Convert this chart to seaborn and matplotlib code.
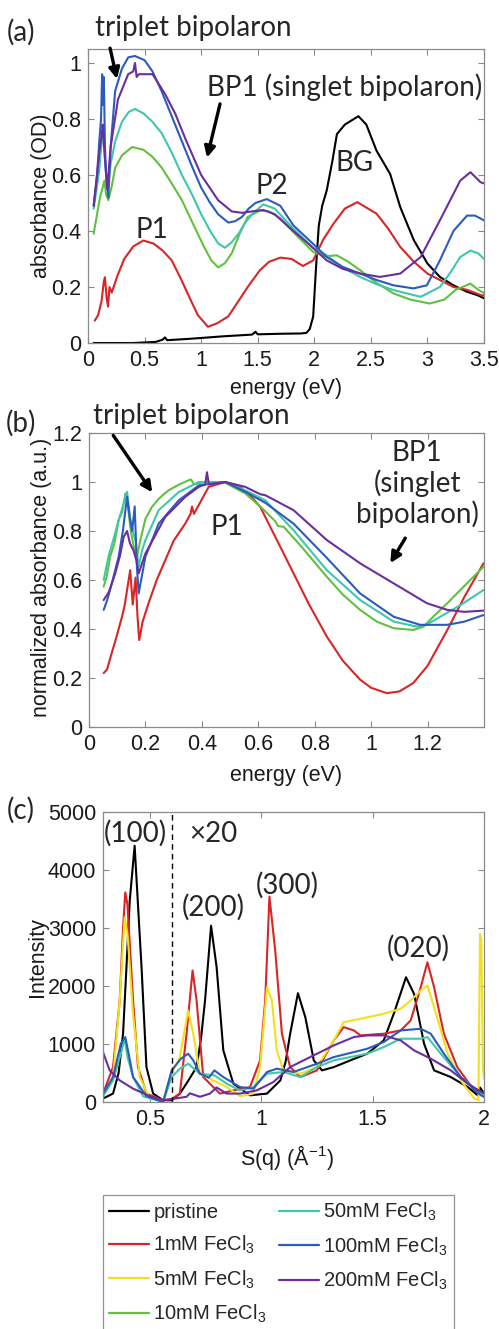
import pandas as pd
import seaborn as sns
import matplotlib.pyplot as plt
from matplotlib.lines import Line2D

# ---------------- data ----------------
samples = ['pristine', '1mM', '5mM', '10mM', '50mM', '100mM', '200mM']
colors = ['#000000', '#d92525', '#f2e01c', '#62c040', '#40c6ac', '#2b5cbd', '#6a2e9e']
legend_labels = ['pristine',
                 r'1mM FeCl$_\mathregular{3}$', r'5mM FeCl$_\mathregular{3}$',
                 r'10mM FeCl$_\mathregular{3}$', r'50mM FeCl$_\mathregular{3}$',
                 r'100mM FeCl$_\mathregular{3}$', r'200mM FeCl$_\mathregular{3}$']

# (a) absorbance vs energy
a_x_pristine = [0.05, 0.4, 0.6, 0.66, 0.68, 0.7, 0.9, 1.2, 1.45, 1.48, 1.5, 1.7, 1.88, 1.93, 1.96, 1.99,
                2.02, 2.04, 2.07, 2.11, 2.16, 2.2, 2.27, 2.35, 2.39, 2.46, 2.55, 2.67, 2.76, 2.88, 3.0,
                3.11, 3.23, 3.35, 3.44, 3.5]
a_y_pristine = [0.0, 0.0, 0.004, 0.012, 0.02, 0.01, 0.015, 0.024, 0.03, 0.04, 0.031, 0.033, 0.034, 0.036,
                0.05, 0.094, 0.3, 0.42, 0.49, 0.545, 0.65, 0.746, 0.78, 0.80, 0.81, 0.78, 0.687, 0.604,
                0.485, 0.367, 0.284, 0.236, 0.206, 0.183, 0.171, 0.16]
a_x_1mM = [0.06, 0.09, 0.12, 0.14, 0.15, 0.165, 0.177, 0.19, 0.21, 0.26, 0.32, 0.4, 0.49, 0.58, 0.66,
           0.74, 0.82, 0.9, 0.97, 1.06, 1.14, 1.24, 1.33, 1.42, 1.52, 1.6, 1.7, 1.8, 1.9, 1.99, 2.08,
           2.17, 2.27, 2.38, 2.55, 2.65, 2.76, 2.88, 3.0, 3.11, 3.23, 3.35, 3.48, 3.5]
a_y_1mM = [0.08, 0.1, 0.15, 0.22, 0.235, 0.16, 0.13, 0.2, 0.18, 0.24, 0.3, 0.345, 0.366, 0.355, 0.33,
           0.295, 0.23, 0.16, 0.1, 0.058, 0.07, 0.095, 0.15, 0.205, 0.26, 0.29, 0.305, 0.30, 0.275,
           0.295, 0.37, 0.426, 0.48, 0.503, 0.462, 0.41, 0.343, 0.29, 0.248, 0.225, 0.2, 0.19, 0.17, 0.17]
a_x_10mM = [0.05, 0.08, 0.106, 0.13, 0.145, 0.16, 0.18, 0.21, 0.24, 0.3, 0.39, 0.49, 0.57, 0.65, 0.74,
            0.83, 0.9, 0.97, 1.03, 1.09, 1.15, 1.21, 1.27, 1.34, 1.41, 1.52, 1.6, 1.7, 1.815, 1.99, 2.1,
            2.2, 2.3, 2.405, 2.55, 2.7, 2.85, 3.02, 3.15, 3.25, 3.38, 3.45, 3.5]
a_y_10mM = [0.39, 0.46, 0.52, 0.556, 0.58, 0.53, 0.51, 0.56, 0.626, 0.67, 0.70, 0.69, 0.665, 0.627, 0.57,
            0.51, 0.45, 0.39, 0.34, 0.295, 0.27, 0.285, 0.32, 0.39, 0.45, 0.473, 0.47, 0.445, 0.396,
            0.325, 0.31, 0.313, 0.29, 0.26, 0.215, 0.177, 0.155, 0.141, 0.155, 0.19, 0.212, 0.19, 0.178]
a_x_50mM = [0.05, 0.08, 0.1, 0.12, 0.13, 0.145, 0.16, 0.175, 0.2, 0.24, 0.3, 0.36, 0.415, 0.49, 0.57,
            0.65, 0.74, 0.83, 0.92, 1.0, 1.08, 1.15, 1.21, 1.27, 1.33, 1.39, 1.45, 1.55, 1.65, 1.815,
            1.99, 2.11, 2.25, 2.405, 2.55, 2.7, 2.94, 3.11, 3.2, 3.29, 3.38, 3.45, 3.5]
a_y_50mM = [0.48, 0.56, 0.62, 0.72, 0.75, 0.68, 0.6, 0.55, 0.64, 0.72, 0.79, 0.825, 0.836, 0.82, 0.79,
            0.75, 0.68, 0.60, 0.53, 0.46, 0.40, 0.356, 0.34, 0.36, 0.39, 0.43, 0.46, 0.495, 0.48, 0.408,
            0.34, 0.313, 0.27, 0.236, 0.21, 0.189, 0.165, 0.20, 0.25, 0.307, 0.33, 0.32, 0.30]
a_x_100mM = [0.05, 0.08, 0.1, 0.115, 0.125, 0.13, 0.14, 0.15, 0.16, 0.18, 0.2, 0.24, 0.3, 0.355, 0.415,
             0.5, 0.57, 0.65, 0.74, 0.83, 0.92, 1.0, 1.08, 1.15, 1.24, 1.3, 1.36, 1.42, 1.48, 1.58, 1.7,
             1.815, 2.0, 2.11, 2.25, 2.405, 2.55, 2.7, 2.876, 2.995, 3.11, 3.23, 3.35, 3.42, 3.5]
a_y_100mM = [0.49, 0.6, 0.72, 0.8, 0.96, 0.85, 0.95, 0.7, 0.6, 0.52, 0.7, 0.90, 0.98, 1.02, 1.025,
             1.01, 0.97, 0.90, 0.81, 0.72, 0.63, 0.555, 0.5, 0.46, 0.43, 0.435, 0.45, 0.48, 0.50, 0.514,
             0.49, 0.42, 0.35, 0.307, 0.272, 0.248, 0.225, 0.206, 0.195, 0.206, 0.295, 0.40, 0.455,
             0.455, 0.438]
a_x_200mM = [0.05, 0.08, 0.1, 0.12, 0.13, 0.15, 0.17, 0.2, 0.265, 0.355, 0.4, 0.415, 0.43, 0.45, 0.57,
             0.68, 0.77, 0.86, 1.0, 1.15, 1.27, 1.36, 1.45, 1.55, 1.65, 1.815, 1.96, 2.11, 2.25, 2.405,
             2.58, 2.76, 2.94, 3.11, 3.29, 3.38, 3.47, 3.5]
a_y_200mM = [0.49, 0.6, 0.68, 0.74, 0.78, 0.66, 0.55, 0.7, 0.87, 0.96, 0.97, 1.0, 0.95, 0.96, 0.96,
             0.89, 0.82, 0.73, 0.60, 0.51, 0.47, 0.465, 0.47, 0.475, 0.46, 0.40, 0.35, 0.295, 0.265,
             0.248, 0.236, 0.248, 0.307, 0.438, 0.58, 0.61, 0.574, 0.57]

# (b) normalized absorbance vs energy
b_x_1mM = [0.052, 0.064, 0.08, 0.093, 0.105, 0.117, 0.127, 0.135, 0.146, 0.155, 0.165, 0.172, 0.178,
           0.19, 0.211, 0.24, 0.27, 0.3, 0.341, 0.36, 0.365, 0.372, 0.424, 0.483, 0.536, 0.583, 0.607,
           0.666, 0.725, 0.78, 0.843, 0.9, 0.961, 1.0, 1.056, 1.1, 1.15, 1.2, 1.27, 1.33, 1.398]
b_y_1mM = [0.22, 0.235, 0.3, 0.35, 0.40, 0.45, 0.50, 0.56, 0.64, 0.50, 0.61, 0.45, 0.355, 0.43, 0.505,
           0.60, 0.68, 0.76, 0.83, 0.87, 0.90, 0.87, 0.98, 1.0, 0.98, 0.93, 0.898, 0.763, 0.627, 0.50,
           0.369, 0.27, 0.193, 0.16, 0.138, 0.145, 0.18, 0.25, 0.396, 0.53, 0.668]
b_x_10mM = [0.052, 0.062, 0.075, 0.09, 0.105, 0.118, 0.129, 0.138, 0.148, 0.158, 0.17, 0.182, 0.2,
            0.223, 0.25, 0.282, 0.32, 0.353, 0.362, 0.372, 0.412, 0.483, 0.554, 0.607, 0.66, 0.67,
            0.69, 0.75, 0.843, 0.9, 0.961, 1.02, 1.08, 1.15, 1.186, 1.22, 1.27, 1.33, 1.398]
b_y_10mM = [0.573, 0.61, 0.695, 0.75, 0.844, 0.88, 0.953, 0.90, 0.80, 0.74, 0.695, 0.763, 0.85, 0.898,
            0.935, 0.966, 0.99, 1.007, 1.01, 0.99, 1.0, 0.997, 0.953, 0.90, 0.84, 0.82, 0.817, 0.74,
            0.613, 0.54, 0.478, 0.43, 0.403, 0.396, 0.41, 0.45, 0.505, 0.575, 0.654]
b_x_50mM = [0.052, 0.07, 0.09, 0.105, 0.12, 0.135, 0.145, 0.155, 0.165, 0.176, 0.188, 0.2, 0.247, 0.318,
            0.389, 0.483, 0.554, 0.625, 0.725, 0.843, 0.961, 1.08, 1.162, 1.2, 1.245, 1.32, 1.398]
b_y_50mM = [0.60, 0.70, 0.78, 0.844, 0.90, 0.96, 0.86, 0.80, 0.76, 0.654, 0.72, 0.763, 0.885, 0.959,
            1.0, 1.0, 0.966, 0.925, 0.803, 0.64, 0.518, 0.43, 0.41, 0.42, 0.45, 0.5, 0.559]
b_x_100mM = [0.052, 0.065, 0.081, 0.095, 0.105, 0.12, 0.135, 0.145, 0.153, 0.162, 0.17, 0.176, 0.2,
             0.247, 0.318, 0.389, 0.483, 0.554, 0.625, 0.725, 0.843, 0.961, 1.08, 1.174, 1.27, 1.33,
             1.398]
b_y_100mM = [0.478, 0.52, 0.586, 0.65, 0.695, 0.80, 0.94, 0.85, 0.80, 0.90, 0.65, 0.545, 0.695, 0.83,
             0.925, 0.986, 1.0, 0.96, 0.915, 0.83, 0.69, 0.545, 0.45, 0.417, 0.417, 0.43, 0.457]
b_x_200mM = [0.052, 0.07, 0.093, 0.11, 0.123, 0.135, 0.145, 0.158, 0.168, 0.176, 0.2, 0.27, 0.341,
             0.389, 0.412, 0.418, 0.425, 0.483, 0.554, 0.607, 0.625, 0.725, 0.843, 0.961, 1.08, 1.198,
             1.27, 1.33, 1.398]
b_y_200mM = [0.518, 0.55, 0.627, 0.70, 0.776, 0.80, 0.75, 0.72, 0.68, 0.627, 0.708, 0.857, 0.939, 0.98,
             0.99, 1.04, 0.99, 1.0, 0.98, 0.95, 0.946, 0.885, 0.763, 0.668, 0.586, 0.505, 0.478, 0.47,
             0.475]

# (c) GIWAXS intensity vs S(q)
c_x_pristine = [0.29, 0.335, 0.36, 0.38, 0.395, 0.41, 0.432, 0.447, 0.463, 0.485, 0.515, 0.56, 0.598,
                0.635, 0.67, 0.71, 0.73, 0.748, 0.775, 0.80, 0.83, 0.875, 0.95, 1.026, 1.086, 1.11, 1.13,
                1.165, 1.198, 1.236, 1.273, 1.326, 1.40, 1.476, 1.55, 1.595, 1.65, 1.686, 1.731, 1.776,
                1.851, 1.927, 1.972, 1.982, 2.0]
c_y_pristine = [60, 145, 500, 1177, 2300, 3471, 4418, 3400, 2323, 602, 145, 30, 30, 145, 350, 602, 1100,
                1750, 3040, 2323, 890, 316, 115, 145, 373, 700, 1177, 1876, 1463, 718, 545, 602, 718,
                833, 1062, 1521, 2151, 1865, 1005, 545, 430, 258, 115, 250, 150]
c_x_1mM = [0.29, 0.335, 0.365, 0.38, 0.39, 0.40, 0.425, 0.447, 0.485, 0.56, 0.598, 0.635, 0.665, 0.692,
           0.71, 0.74, 0.785, 0.815, 0.875, 0.95, 0.995, 1.018, 1.037, 1.063, 1.093, 1.13, 1.176, 1.25,
           1.326, 1.37, 1.416, 1.445, 1.55, 1.626, 1.671, 1.716, 1.746, 1.776, 1.82, 1.88, 1.956, 2.0]
c_y_1mM = [145, 602, 1750, 3000, 3614, 3400, 1750, 602, 145, 30, 50, 145, 1177, 2267, 1750, 430, 258,
           145, 200, 258, 718, 1750, 3540, 2611, 1177, 602, 430, 545, 1062, 1291, 1234, 1148, 1177, 1234,
           1406, 1979, 2409, 1979, 1177, 602, 201, 150]
c_x_5mM = [0.29, 0.335, 0.365, 0.387, 0.40, 0.425, 0.455, 0.5, 0.56, 0.598, 0.635, 0.672, 0.695, 0.725,
           0.785, 0.845, 0.905, 0.965, 0.995, 1.026, 1.048, 1.07, 1.1, 1.176, 1.25, 1.326, 1.37, 1.446,
           1.55, 1.626, 1.671, 1.716, 1.746, 1.776, 1.837, 1.896, 1.956, 1.975, 1.982, 1.988, 1.995, 2.0]
c_y_5mM = [100, 430, 1750, 3184, 2900, 1500, 430, 60, 30, 488, 775, 1578, 1177, 488, 373, 258, 100, 145,
           602, 1979, 1750, 890, 545, 488, 602, 1062, 1377, 1435, 1521, 1607, 1750, 1922, 2008, 1636, 833,
           373, 58, 30, 2898, 2800, 600, 400]
c_x_50mM = [0.29, 0.335, 0.37, 0.387, 0.40, 0.425, 0.47, 0.56, 0.598, 0.635, 0.672, 0.725, 0.79, 0.845,
            0.905, 0.965, 1.026, 1.1, 1.176, 1.25, 1.326, 1.476, 1.55, 1.626, 1.716, 1.746, 1.806, 1.896,
            1.986, 2.0]
c_y_50mM = [100, 373, 833, 1090, 776, 430, 100, 0, 430, 575, 660, 488, 460, 316, 200, 258, 488, 517, 430,
            602, 718, 833, 947, 1091, 1091, 1120, 833, 430, 145, 90]
c_x_100mM = [0.29, 0.335, 0.37, 0.39, 0.405, 0.425, 0.485, 0.56, 0.598, 0.64, 0.672, 0.695, 0.725, 0.765,
             0.79, 0.83, 0.905, 0.965, 1.026, 1.07, 1.145, 1.25, 1.326, 1.476, 1.55, 1.626, 1.716, 1.761,
             1.82, 1.896, 1.986, 2.0]
c_y_100mM = [145, 430, 1005, 1120, 833, 430, 100, 0, 545, 747, 833, 718, 488, 420, 545, 430, 258, 230,
             517, 575, 517, 660, 775, 918, 1034, 1234, 1263, 1177, 833, 430, 115, 90]
c_x_200mM = [0.29, 0.32, 0.365, 0.425, 0.5, 0.56, 0.598, 0.665, 0.68, 0.725, 0.77, 0.80, 0.845, 0.905,
             0.98, 1.055, 1.13, 1.22, 1.326, 1.416, 1.476, 1.55, 1.626, 1.686, 1.761, 1.851, 1.927, 2.0]
c_y_200mM = [860, 545, 373, 230, 100, 30, 50, 90, 150, 90, 145, 250, 145, 145, 200, 345, 602, 775, 976,
             1120, 1148, 1148, 1062, 890, 747, 545, 316, 145]

a_xticks = [0, 0.5, 1, 1.5, 2, 2.5, 3, 3.5]
a_xticklabels = ['0', '0.5', '1', '1.5', '2', '2.5', '3', '3.5']
a_yticks = [0, 0.2, 0.4, 0.6, 0.8, 1]
a_yticklabels = ['0', '0.2', '0.4', '0.6', '0.8', '1']
b_xticks = [0, 0.2, 0.4, 0.6, 0.8, 1, 1.2]
b_xticklabels = ['0', '0.2', '0.4', '0.6', '0.8', '1', '1.2']
b_yticks = [0, 0.2, 0.4, 0.6, 0.8, 1, 1.2]
b_yticklabels = ['0', '0.2', '0.4', '0.6', '0.8', '1', '1.2']
c_xticks = [0.5, 1, 1.5, 2]
c_xticklabels = ['0.5', '1', '1.5', '2']
c_yticks = [0, 1000, 2000, 3000, 4000, 5000]
c_yticklabels = ['0', '1000', '2000', '3000', '4000', '5000']


def to_long(pairs):
    rows = []
    for name, xs, ys in pairs:
        for x, y in zip(xs, ys):
            rows.append({'sample': name, 'x': x, 'y': y})
    return pd.DataFrame(rows)


df_a = to_long([('pristine', a_x_pristine, a_y_pristine), ('1mM', a_x_1mM, a_y_1mM),
                ('10mM', a_x_10mM, a_y_10mM), ('50mM', a_x_50mM, a_y_50mM),
                ('100mM', a_x_100mM, a_y_100mM), ('200mM', a_x_200mM, a_y_200mM)])
df_b = to_long([('1mM', b_x_1mM, b_y_1mM), ('10mM', b_x_10mM, b_y_10mM), ('50mM', b_x_50mM, b_y_50mM),
                ('100mM', b_x_100mM, b_y_100mM), ('200mM', b_x_200mM, b_y_200mM)])
df_c = to_long([('pristine', c_x_pristine, c_y_pristine), ('1mM', c_x_1mM, c_y_1mM),
                ('5mM', c_x_5mM, c_y_5mM), ('50mM', c_x_50mM, c_y_50mM),
                ('100mM', c_x_100mM, c_y_100mM), ('200mM', c_x_200mM, c_y_200mM)])

palette = dict(zip(samples, colors))

# ---------------- figure ----------------
sns.set_style('ticks')
plt.rcParams['font.family'] = ['Liberation Sans', 'DejaVu Sans']
ANN_FONT = ['Lato', 'DejaVu Sans']
ANN_SIZE = 20
FRAME = '#8a8a8a'

W, H = 499, 1329
fig = plt.figure(figsize=(W / 100, H / 100), dpi=100)


def px_axes(left, top, right, bottom):
    return fig.add_axes([left / W, 1 - bottom / H, (right - left) / W, (bottom - top) / H])


ax_a = px_axes(88, 49, 484, 343)
ax_b = px_axes(89, 433, 484, 727)
ax_c = px_axes(103, 812, 484, 1102)

for ax, df in [(ax_a, df_a), (ax_b, df_b), (ax_c, df_c)]:
    sns.lineplot(data=df, x='x', y='y', hue='sample', palette=palette, estimator=None, sort=False,
                 units='sample', legend=False, linewidth=1.5, ax=ax)


def style(ax, xlim, ylim, xt, xtl, yt, ytl, xlabel, ylabel, xl_pos, yl_pos):
    ax.set_xlim(*xlim)
    ax.set_ylim(*ylim)
    ax.set_xticks(xt)
    ax.set_xticklabels(xtl)
    ax.set_yticks(yt)
    ax.set_yticklabels(ytl)
    ax.tick_params(direction='in', length=4, width=0.8, top=True, right=True, labelsize=15.5,
                   color=FRAME, labelcolor='#1a1a1a', pad=5)
    for sp in ax.spines.values():
        sp.set_visible(True)
        sp.set_color(FRAME)
        sp.set_linewidth(0.9)
    ax.set_xlabel(xlabel, fontsize=15.5, color='#1a1a1a')
    ax.set_ylabel(ylabel, fontsize=15.5, color='#1a1a1a')
    ax.xaxis.set_label_coords(*xl_pos)
    ax.yaxis.set_label_coords(*yl_pos)


style(ax_a, (0, 3.5), (0, 1.05), a_xticks, a_xticklabels, a_yticks, a_yticklabels,
      'energy (eV)', 'absorbance (OD)', (0.5, -0.119), (-0.091, 0.5))
style(ax_b, (0, 1.4), (0, 1.2), b_xticks, b_xticklabels, b_yticks, b_yticklabels,
      'energy (eV)', 'normalized absorbance (a.u.)', (0.5, -0.129), (-0.094, 0.51))
style(ax_c, (0.29, 2.0), (0, 5000), c_xticks, c_xticklabels, c_yticks, c_yticklabels,
      r'S(q) (Å$^{\mathregular{-1}}$)', 'Intensity', (0.483, -0.141), (-0.144, 0.5))

arrow = dict(arrowstyle='-|>', color='k', lw=2.4, mutation_scale=16, shrinkA=0, shrinkB=0)

# panel (a) annotations
ax_a.text(0.93, 1.125, 'triplet bipolaron', fontsize=ANN_SIZE, family=ANN_FONT, ha='center',
          va='center', clip_on=False)
ax_a.annotate('', xy=(0.256, 0.943), xytext=(0.195, 1.053), arrowprops=arrow, annotation_clip=False)
ax_a.text(2.27, 0.915, 'BP1 (singlet bipolaron)', fontsize=ANN_SIZE, family=ANN_FONT, ha='center',
          va='center')
ax_a.annotate('', xy=(1.052, 0.662), xytext=(1.167, 0.854), arrowprops=arrow)
ax_a.text(0.566, 0.402, 'P1', fontsize=ANN_SIZE, family=ANN_FONT, ha='center', va='center')
ax_a.text(1.627, 0.562, 'P2', fontsize=ANN_SIZE, family=ANN_FONT, ha='center', va='center')
ax_a.text(2.36, 0.644, 'BG', fontsize=ANN_SIZE, family=ANN_FONT, ha='center', va='center')

# panel (b) annotations
ax_b.text(0.364, 1.27, 'triplet bipolaron', fontsize=ANN_SIZE, family=ANN_FONT, ha='center',
          va='center', clip_on=False)
ax_b.annotate('', xy=(0.224, 0.958), xytext=(0.086, 1.19), arrowprops=arrow, annotation_clip=False)
ax_b.text(1.163, 0.99, 'BP1\n(singlet\nbipolaron)', fontsize=ANN_SIZE, family=ANN_FONT, ha='center',
          va='center', linespacing=1.15)
ax_b.annotate('', xy=(1.068, 0.669), xytext=(1.121, 0.771), arrowprops=arrow)
ax_b.text(0.49, 0.815, 'P1', fontsize=ANN_SIZE, family=ANN_FONT, ha='center', va='center')

# panel (c) annotations
ax_c.axvline(0.598, color='k', lw=1.0, ls=(0, (4, 3)))
for label, x, y in [('(100)', 0.437, 4625), ('×20', 0.784, 4625), ('(200)', 0.784, 3352),
                    ('(300)', 1.117, 3730), ('(020)', 1.705, 2645)]:
    ax_c.text(x, y, label, fontsize=ANN_SIZE, family=ANN_FONT, ha='center', va='center')

# panel letters
for label, ypx in [('(a)', 32), ('(b)', 423), ('(c)', 810)]:
    fig.text(21 / W, 1 - ypx / H, label, fontsize=ANN_SIZE, family=ANN_FONT, ha='center',
             va='center')

# legend under panel (c)
handles = [Line2D([], [], color=c, lw=1.6) for c in colors]
leg = fig.legend(handles, legend_labels, loc='upper left', bbox_to_anchor=(103 / W, 1 - 1195 / H),
                 ncol=2, frameon=True, fancybox=False, fontsize=14.5, handlelength=2.0,
                 handletextpad=0.2, columnspacing=0.6, labelspacing=0.6, borderpad=0.3,
                 borderaxespad=0)
leg.get_frame().set_edgecolor('#777777')
leg.get_frame().set_linewidth(0.9)

fig.savefig('out.png', dpi=100)
